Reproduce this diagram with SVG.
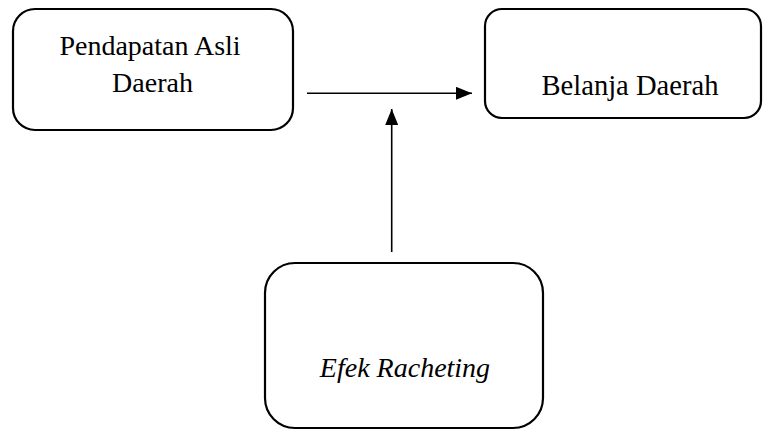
<svg xmlns="http://www.w3.org/2000/svg" width="763" height="430" viewBox="0 0 763 430">
<defs>
<style>
.box{fill:#fff;stroke:#000;stroke-width:2.2}
.t{font-size:28px;fill:#000}
.i{font-style:italic}
.c{stroke:#000;stroke-width:1.6;fill:none}
</style>
<marker id="ah" viewBox="0 0 16 13" refX="16" refY="6.5" markerWidth="16" markerHeight="13" markerUnits="userSpaceOnUse" orient="auto">
<path d="M0,0 L16,6.5 L0,13 Z" fill="#000"/>
</marker>
</defs>
<rect width="763" height="430" fill="#fff"/>
<g id="pad">
<rect class="box" x="13" y="9" width="280" height="121" rx="22"/>
<text class="t" font-family="Liberation Serif, serif" x="150" y="55" text-anchor="middle">Pendapatan Asli</text>
<text class="t" font-family="Liberation Serif, serif" x="152.5" y="92" text-anchor="middle">Daerah</text>
</g>
<g id="belanja">
<rect class="box" x="485" y="9" width="276" height="109" rx="17"/>
<text class="t" font-family="Liberation Serif, serif" x="630" y="95" text-anchor="middle" style="font-size:28.6px">Belanja Daerah</text>
</g>
<g id="efek">
<rect class="box" x="265" y="263" width="278" height="165" rx="30"/>
<text class="t i" font-family="Liberation Serif, serif" x="405" y="377" text-anchor="middle">Efek Racheting</text>
</g>
<g id="connectors">
<line class="c" x1="307" y1="93.3" x2="472" y2="93.3" marker-end="url(#ah)"/>
<line class="c" x1="391.7" y1="252" x2="391.7" y2="109" marker-end="url(#ah)"/>
</g>
</svg>
